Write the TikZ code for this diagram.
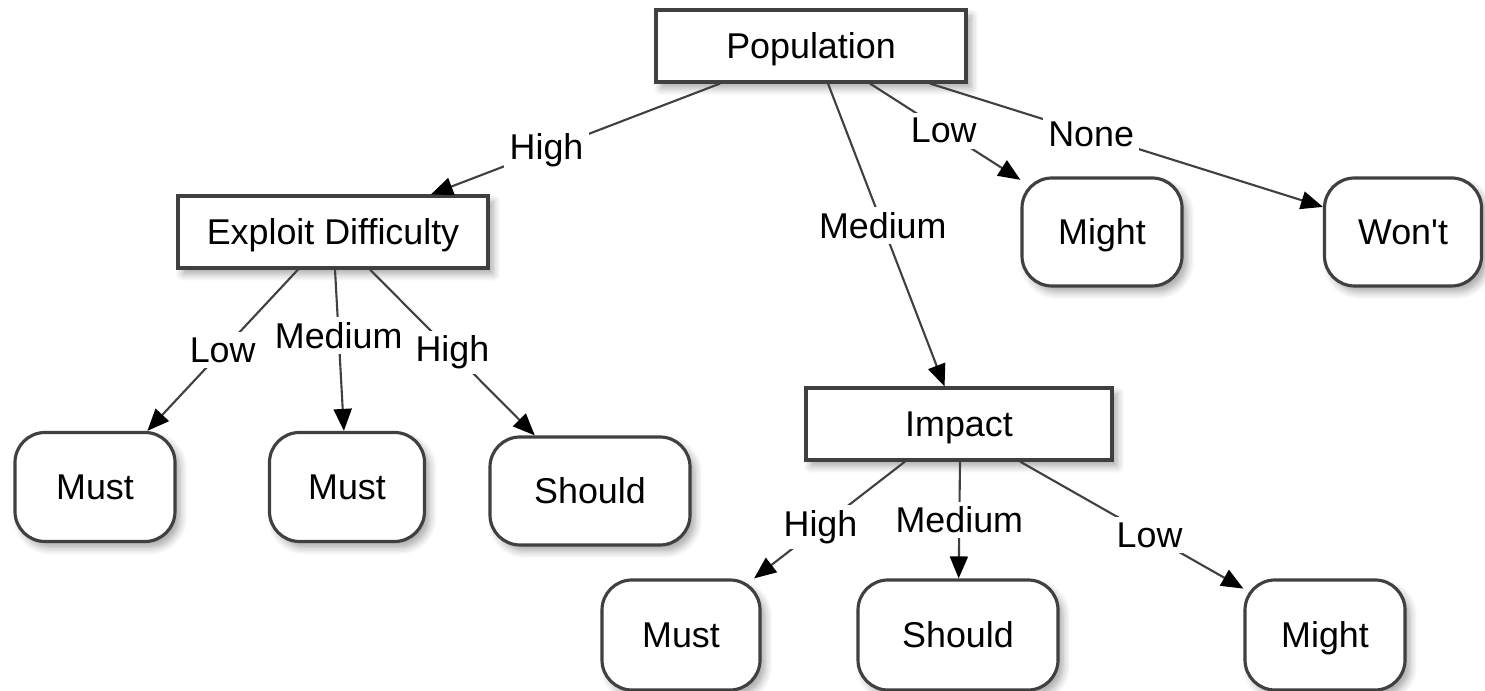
\documentclass[tikz,border=0pt]{standalone}
\usepackage{fontspec}
\setmainfont{Liberation Sans}
\usetikzlibrary{arrows.meta,shadows.blur}

\tikzset{
    decbox/.style={draw=black!75, line width=0.9pt, fill=white, minimum width=3.1cm,
        minimum height=0.72cm, text height=1.6ex, text depth=0.3ex,
        blur shadow={shadow xshift=0.05cm, shadow yshift=-0.06cm,
        shadow blur steps=6, shadow opacity=35}},
    leafbox/.style={decbox, rounded corners=0.3cm, minimum width=1.6cm, minimum height=1.08cm},
    branch/.style={draw=black!75, line width=0.6pt,
        -{Triangle[length=0.22cm,width=0.18cm,color=black]}},
    lbl/.style={fill=white, inner sep=1.5pt}
}

\begin{document}
\begin{tikzpicture}[font=\fontsize{10.2}{12}\selectfont]
    % Fix the page size
    \useasboundingbox (0,0) rectangle (14.85,6.91);

    % Decision nodes
    \node[decbox] (pop) at (8.11,6.45) {Population};
    \node[decbox] (expl) at (3.33,4.59) {Exploit Difficulty};
    \node[decbox, minimum width=3.06cm] (imp) at (9.59,2.67) {Impact};

    % Leaves
    \node[leafbox] (might1) at (11.02,4.59) {Might};
    \node[leafbox, minimum width=1.57cm] (wont) at (14.03,4.59) {Won\textquotesingle t};
    \node[leafbox, minimum height=1.09cm] (must1) at (0.95,2.04) {Must};
    \node[leafbox, minimum width=1.55cm, minimum height=1.09cm] (must2) at (3.47,2.04) {Must};
    \node[leafbox, minimum width=2cm] (should1) at (5.90,2.00) {Should};
    \node[leafbox, minimum width=1.58cm, minimum height=1.1cm] (must3) at (6.81,0.56) {Must};
    \node[leafbox, minimum width=2cm, minimum height=1.1cm] (should2) at (9.58,0.56) {Should};
    \node[leafbox, minimum height=1.1cm] (might2) at (13.25,0.56) {Might};

    % Branches out of Population
    \draw[branch] ([xshift=-0.91cm]pop.south) -- node[lbl, pos=0.6] {High} (expl);
    \draw[branch] ([xshift=0.17cm]pop.south) -- node[lbl, pos=0.47] {Medium} (imp);
    \draw[branch] ([xshift=0.59cm]pop.south) -- node[lbl, pos=0.49] {Low} (might1);
    \draw[branch] ([xshift=1.19cm]pop.south) -- node[lbl, pos=0.41] {None} (wont);

    % Branches out of Exploit Difficulty
    \draw[branch] ([xshift=-0.35cm]expl.south) -- node[lbl, pos=0.5] {Low} (must1);
    \draw[branch] ([xshift=0.02cm]expl.south) -- node[lbl, pos=0.41] {Medium} (must2);
    \draw[branch] ([xshift=0.37cm]expl.south) -- node[lbl, pos=0.5] {High} (should1);

    % Branches out of Impact
    \draw[branch] ([xshift=-0.54cm]imp.south) -- node[lbl, pos=0.56] {High} (must3);
    \draw[branch] ([xshift=0.01cm]imp.south) -- node[lbl, pos=0.5] {Medium} (should2);
    \draw[branch] ([xshift=0.61cm]imp.south) -- node[lbl, pos=0.58] {Low} (might2);
\end{tikzpicture}
\end{document}
